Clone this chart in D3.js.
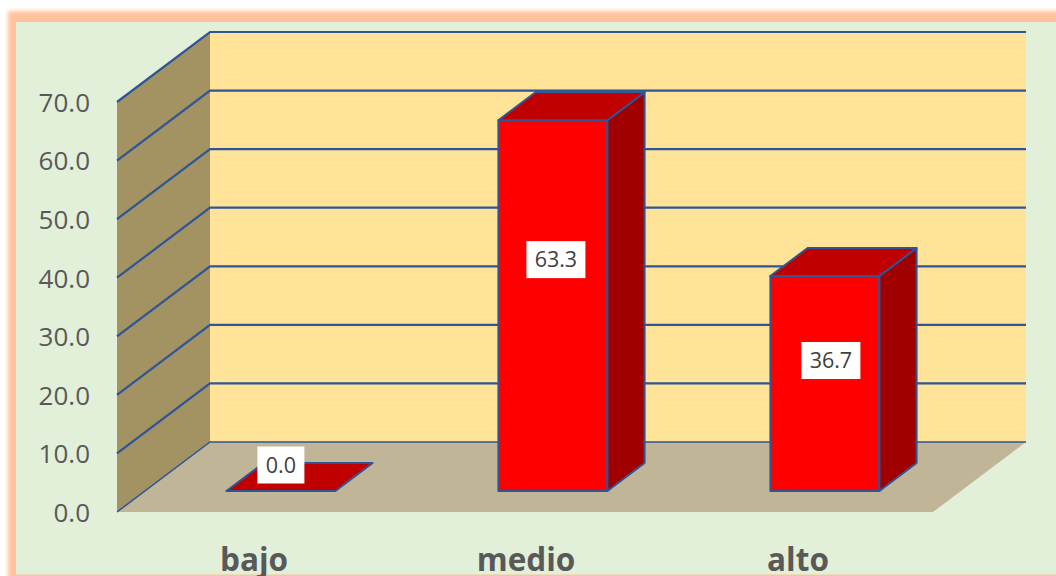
<!DOCTYPE html>
<html>
<head>
<meta charset="utf-8">
<script src="https://cdn.jsdelivr.net/npm/d3@7.9.0/dist/d3.min.js"></script>
<style>
  html, body { margin: 0; padding: 0; background: #fff; overflow: hidden; }
  svg { display: block; }
  text { font-family: "Open Sans", sans-serif; }
</style>
</head>
<body>
<svg id="chart" width="1056" height="576"></svg>
<script>
// Data
const categories = ['bajo', 'medio', 'alto'];
const values = [0.0, 63.3, 36.7];
const tickValues = [0, 10, 20, 30, 40, 50, 60, 70];

const svg = d3.select('#chart');

// Panel with its blurred orange frame
const defs = svg.append('defs');
defs.append('filter').attr('id', 'glow')
    .attr('x', '-5%').attr('y', '-5%').attr('width', '110%').attr('height', '110%')
  .append('feGaussianBlur').attr('stdDeviation', 2.2);

svg.append('rect').attr('x', 8).attr('y', 11).attr('width', 1100).attr('height', 600)
    .attr('fill', '#FFC29A').attr('filter', 'url(#glow)');
svg.append('rect').attr('x', 16).attr('y', 22).attr('width', 1040).attr('height', 552.5)
    .attr('fill', '#E2EFD9');

// Scales: front plane of the floor, plus a depth scale for the oblique projection
const x = d3.scaleBand().domain(categories).range([117, 933]);
const y = d3.scaleLinear().domain([0, 70]).range([512, 102]);
const depth = d3.scaleLinear().domain([0, 1]).range([0, 93]);
const rise = d3.scaleLinear().domain([0, 1]).range([0, 70]);

// Project (floor x, value, depth) to the page
const px = (fx, d) => fx + depth(d);
const py = (v, d) => y(v) - rise(d);
const poly = (pts) => pts.map(([fx, v, d]) => `${px(fx, d)},${py(v, d)}`).join(' ');

const yMax = 70;
const left = x.range()[0], right = x.range()[1];
const gridColor = '#2F5597';

// Walls and floor
svg.append('polygon').attr('points', poly([[left, 0, 0], [left, 0, 1], [left, yMax, 1], [left, yMax, 0]]))
    .attr('fill', '#A39262');
svg.append('polygon').attr('points', poly([[left, 0, 1], [right, 0, 1], [right, yMax, 1], [left, yMax, 1]]))
    .attr('fill', '#FEE398');
svg.append('polygon').attr('points', poly([[left, 0, 0], [right, 0, 0], [right, 0, 1], [left, 0, 1]]))
    .attr('fill', '#C0B596');

// Gridlines run along the side wall, then across the back wall
svg.append('g').selectAll('polyline').data(tickValues).join('polyline')
    .attr('points', (t) => poly([[left, t, 0], [left, t, 1], [right, t, 1]]))
    .attr('fill', 'none')
    .attr('stroke', gridColor)
    .attr('stroke-width', (t) => t === 0 ? 1.5 : 2.2);

// Value axis
const yAxis = d3.axisLeft(y).tickValues(tickValues).tickFormat(d3.format('.1f')).tickSize(0).tickPadding(27);
const yG = svg.append('g').attr('transform', `translate(${left},1)`).call(yAxis);
yG.select('.domain').remove();
yG.selectAll('text').attr('font-size', 26).attr('fill', '#595959')
    .style('font-family', '"Open Sans", sans-serif');

// Category axis (the reference crops these labels at its bottom edge)
const xAxis = d3.axisBottom(x).tickSize(0).tickPadding(0);
const xG = svg.append('g').attr('transform', 'translate(1,549)').call(xAxis);
xG.select('.domain').remove();
xG.selectAll('text').attr('font-size', 31.5).attr('font-weight', 700).attr('fill', '#595959')
    .style('font-family', '"Open Sans", sans-serif');

// Bars
const barWidth = 109;
const dFront = 0.3, dBack = 0.7;
const barStroke = { stroke: gridColor, 'stroke-width': 2, 'stroke-linejoin': 'round' };

function face(g, pts, fill) {
  const p = g.append('polygon').attr('points', poly(pts)).attr('fill', fill);
  Object.entries(barStroke).forEach(([k, v]) => p.attr(k, v));
}

categories.forEach((c, i) => {
  const g = svg.append('g');
  const x0 = x(c) + (x.bandwidth() - barWidth) / 2;
  const x1 = x0 + barWidth;
  const v = values[i];
  if (v > 0) {
    face(g, [[x0, 0, dFront], [x1, 0, dFront], [x1, v, dFront], [x0, v, dFront]], '#FF0000');
    face(g, [[x1, 0, dFront], [x1, 0, dBack], [x1, v, dBack], [x1, v, dFront]], '#A00000');
  }
  face(g, [[x0, v, dFront], [x1, v, dFront], [x1, v, dBack], [x0, v, dBack]], '#C00000');
});

// Data labels: moved by hand in the original chart, so each has its own nudge
const labelNudge = [[0, -26], [3, -46], [6, -23]];
const labelBox = [[47, 37], [59, 37], [59, 37]];

categories.forEach((c, i) => {
  const v = values[i];
  const cx = px(x(c) + x.bandwidth() / 2, dFront) + labelNudge[i][0];
  const cy = (py(0, dFront) + py(v, dFront)) / 2 + labelNudge[i][1];
  const [w, h] = labelBox[i];
  svg.append('rect').attr('x', cx - w / 2).attr('y', cy - h / 2).attr('width', w).attr('height', h)
      .attr('fill', '#fff');
  svg.append('text').attr('x', cx).attr('y', cy).attr('dy', '0.36em')
      .attr('text-anchor', 'middle').attr('font-size', 21.5).attr('fill', '#404040')
      .text(d3.format('.1f')(v));
});
</script>
</body>
</html>
